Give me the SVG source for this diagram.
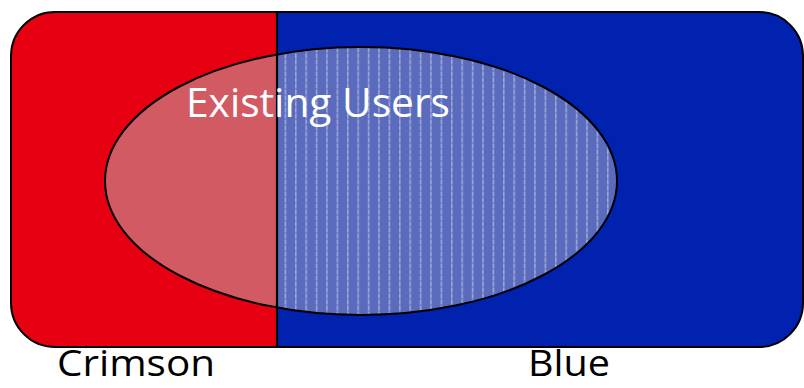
<svg xmlns="http://www.w3.org/2000/svg" width="804" height="388" viewBox="0 0 804 388">
<defs>
<clipPath id="box"><rect x="11" y="12" width="792" height="335" rx="44" ry="44"/></clipPath>
<clipPath id="leftHalf"><rect x="0" y="0" width="277" height="388"/></clipPath>
<clipPath id="rightHalf"><rect x="277" y="0" width="527" height="388"/></clipPath>
<pattern id="vlines" x="0" y="0" width="10.4" height="6" patternUnits="userSpaceOnUse">
<rect width="10.4" height="6" fill="#5a6bbd"/>
<rect x="4" y="0" width="1.2" height="4" fill="#c9cfe9" opacity="0.8"/>
<rect x="4" y="4" width="1.2" height="2" fill="#9aa4d6" opacity="0.8"/>
</pattern>
<style>
.lbl{font-family:"Open Sans","Liberation Sans",sans-serif;font-size:37px}
.edge{fill:none;stroke:#000;stroke-width:2}
</style>
</defs>
<g id="crimson">
<g clip-path="url(#box)"><rect x="0" y="0" width="277" height="388" fill="#e60012"/></g>
</g>
<g id="blue">
<g clip-path="url(#box)"><rect x="277" y="0" width="527" height="388" fill="#0121af"/></g>
</g>
<rect class="edge" x="11" y="12" width="792" height="335" rx="44" ry="44"/>
<g id="existing-users">
<ellipse cx="361" cy="181" rx="256" ry="134" fill="#d25a63" clip-path="url(#leftHalf)"/>
<ellipse cx="361" cy="181" rx="256" ry="134" fill="url(#vlines)" clip-path="url(#rightHalf)"/>
<ellipse class="edge" cx="361" cy="181" rx="256" ry="134"/>
</g>
<g id="connectors">
<line x1="277" y1="12" x2="277" y2="347" stroke="#000" stroke-width="2.2"/>
</g>
<text class="lbl" x="186" y="117" fill="#fff" style="font-size:41px" textLength="264" lengthAdjust="spacingAndGlyphs">Existing Users</text>
<text class="lbl" x="57" y="376" fill="#000" textLength="158" lengthAdjust="spacingAndGlyphs">Crimson</text>
<text class="lbl" x="528" y="376" fill="#000" textLength="82" lengthAdjust="spacingAndGlyphs">Blue</text>
</svg>
